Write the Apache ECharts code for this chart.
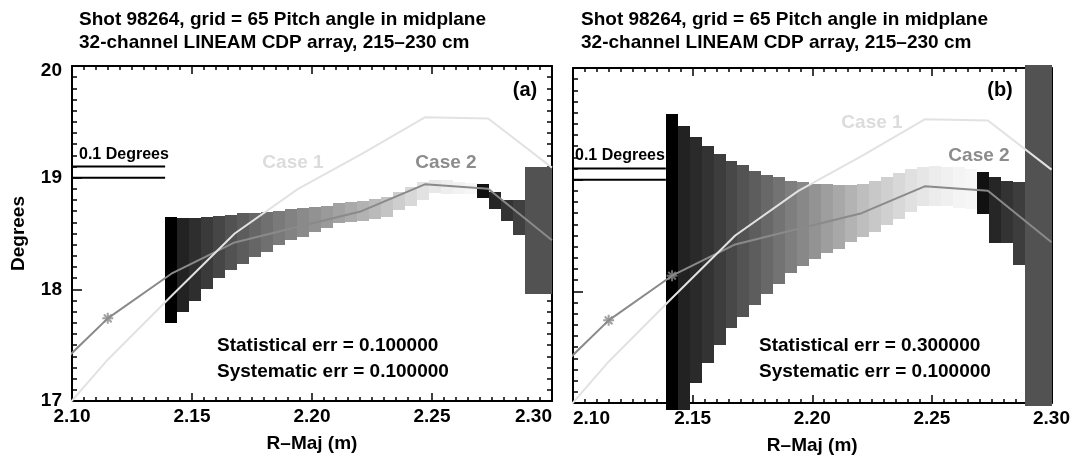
<!DOCTYPE html>
<html>
<head>
<meta charset="utf-8">
<title>Pitch angle in midplane</title>
<script src="https://cdn.jsdelivr.net/npm/echarts@6/dist/echarts.min.js"></script>
<style>
  html, body { margin: 0; padding: 0; background: #fff; }
  #chart { width: 1073px; height: 461px; }
</style>
</head>
<body>
<div id="chart"></div>
<script>
// 曲线横坐标 R-Maj (m)
const rMaj = [2.0885, 2.1149, 2.1414, 2.1678, 2.1942, 2.2206, 2.2470, 2.2734, 2.3000];
// Case 1 / Case 2 pitch angle (degrees)
const case1 = [16.72, 17.37, 17.94, 18.50, 18.90, 19.21, 19.54, 19.53, 19.09];
const case2 = [17.19, 17.74, 18.14, 18.42, 18.56, 18.70, 18.94, 18.90, 18.44];
// 星号标记所在的点 (index into rMaj)
const starIdxA = [1];
const starIdxB = [1, 2];

// 0.1 Degrees 比例尺
const scaleBarX = [2.10, 2.1388];
const scaleBarY = [19.0, 19.1];

// 灰度条的边界 (R-Maj, m)
const barEdges = [2.13875, 2.14375, 2.14875, 2.15375, 2.15875, 2.16375, 2.16875, 2.17375,
  2.17875, 2.18375, 2.18875, 2.19375, 2.19875, 2.20375, 2.20875, 2.21375, 2.21875, 2.22375,
  2.22875, 2.23375, 2.23875, 2.24375, 2.24875, 2.25375, 2.25875, 2.26375, 2.26875, 2.27375,
  2.27875, 2.28375, 2.28875, 2.30];

// (a) statistical err = 0.1
const hiA = [18.65, 18.64, 18.64, 18.65, 18.66, 18.67, 18.68, 18.68, 18.69, 18.70, 18.715,
  18.73, 18.74, 18.75, 18.77, 18.78, 18.79, 18.805, 18.83, 18.87, 18.92, 18.96, 18.98, 18.98,
  18.96, 18.95, 18.94, 18.87, 18.80, 18.80, 19.10];
const loA = [17.70, 17.80, 17.90, 18.00, 18.10, 18.17, 18.23, 18.29, 18.335, 18.395, 18.44,
  18.47, 18.51, 18.545, 18.59, 18.60, 18.615, 18.63, 18.65, 18.71, 18.75, 18.80, 18.86, 18.85,
  18.85, 18.85, 18.82, 18.72, 18.61, 18.49, 17.96];
const levelA = [0, 34, 46, 58, 70, 82, 92, 102, 112, 122, 130, 138, 146, 154, 162, 170, 178,
  186, 196, 206, 216, 226, 232, 238, 242, 246, 17, 38, 51, 64, 82];

// (b) statistical err = 0.3
const hiB = [19.59, 19.48, 19.38, 19.30, 19.23, 19.17, 19.13, 19.08, 19.04, 19.02, 18.99,
  18.98, 18.965, 18.96, 18.95, 18.95, 18.96, 18.99, 19.02, 19.06, 19.10, 19.11, 19.12, 19.11,
  19.11, 19.10, 19.07, 19.02, 18.99, 18.98, 20.03];
const loB = [16.94, 16.94, 17.18, 17.355, 17.52, 17.67, 17.77, 17.88, 17.98, 18.07, 18.16,
  18.23, 18.29, 18.34, 18.38, 18.44, 18.49, 18.53, 18.59, 18.65, 18.71, 18.76, 18.76, 18.76,
  18.75, 18.74, 18.69, 18.43, 18.43, 18.24, 16.97];
const levelB = [0, 34, 42, 51, 61, 72, 83, 93, 104, 115, 126, 136, 147, 158, 168, 179, 190,
  200, 208, 216, 224, 230, 236, 240, 244, 246, 17, 38, 51, 61, 82];

const FONT = "'Liberation Sans', Arial, Helvetica, sans-serif";
const BLACK = '#000';

// 组装灰度条数据 [x0, x1, lo, hi, level]
function buildBars(lo, hi, level) {
  let out = [];
  for (let i = 0; i < lo.length; i++) {
    out.push([barEdges[i], barEdges[i + 1], lo[i], hi[i], level[i]]);
  }
  return out;
}

function pairs(xs, ys) {
  return xs.map(function (x, i) { return [x, ys[i]]; });
}

function renderBar(params, api) {
  let p0 = api.coord([api.value(0), api.value(3)]);
  let p1 = api.coord([api.value(1), api.value(2)]);
  let x0 = Math.round(p0[0]), x1 = Math.round(p1[0]);
  let y0 = Math.round(p0[1]), y1 = Math.round(p1[1]);
  return {
    type: 'rect',
    shape: { x: x0, y: y0, width: x1 - x0, height: y1 - y0 },
    style: { fill: api.visual('color') }
  };
}

function xAxisOf(gi, pos, showLabel, alignMin, alignMax) {
  return {
    type: 'value', gridIndex: gi, position: pos,
    min: 2.10, max: 2.30, interval: 0.05,
    axisLine: { onZero: false, lineStyle: { color: BLACK, width: 2 } },
    axisTick: { inside: true, length: 8, lineStyle: { color: BLACK, width: 1.5 } },
    minorTick: { show: true, splitNumber: 10, length: 4, lineStyle: { color: BLACK, width: 1.5 } },
    splitLine: { show: false },
    axisLabel: {
      show: showLabel, color: BLACK, fontSize: 19, fontWeight: 'bold', fontFamily: FONT,
      margin: 6, showMinLabel: true, showMaxLabel: true,
      alignMinLabel: alignMin, alignMaxLabel: alignMax,
      formatter: function (v) { return v.toFixed(2); }
    },
    name: showLabel ? 'R–Maj (m)' : '',
    nameLocation: 'middle', nameGap: 33,
    nameTextStyle: { color: BLACK, fontSize: 19, fontWeight: 'bold', fontFamily: FONT }
  };
}

function yAxisOf(gi, pos, showLabel) {
  return {
    type: 'value', gridIndex: gi, position: pos,
    min: 17, max: 20, interval: 1,
    axisLine: { show: true, onZero: false, lineStyle: { color: BLACK, width: 2 } },
    axisTick: { inside: true, length: 10, lineStyle: { color: BLACK, width: 1.5 } },
    minorTick: { show: true, splitNumber: 10, length: 5, lineStyle: { color: BLACK, width: 1.5 } },
    splitLine: { show: false },
    axisLabel: {
      show: showLabel, margin: 10,
      formatter: function (v) { return v === 20 ? '{top|20}' : '{n|' + v + '}'; },
      rich: {
        n: { color: BLACK, fontSize: 19, fontWeight: 'bold', fontFamily: FONT },
        top: { color: BLACK, fontSize: 19, fontWeight: 'bold', fontFamily: FONT, padding: [10, 0, 0, 0] }
      }
    },
    name: showLabel ? 'Degrees' : '',
    nameLocation: 'middle', nameGap: 44,
    nameTextStyle: { color: BLACK, fontSize: 19, fontWeight: 'bold', fontFamily: FONT }
  };
}

function panelSeries(gi, bars, stars) {
  let xi = gi * 2, yi = gi * 2;
  let lineBase = { xAxisIndex: xi, yAxisIndex: yi, type: 'line', symbol: 'none', silent: true, animation: false };
  return [
    {
      type: 'custom', xAxisIndex: xi, yAxisIndex: yi, clip: false, silent: true, animation: false,
      renderItem: renderBar, encode: { x: [0, 1], y: [2, 3] }, data: bars, z: 2
    },
    Object.assign({}, lineBase, {
      data: pairs(scaleBarX, [scaleBarY[0], scaleBarY[0]]), lineStyle: { color: BLACK, width: 2 }, z: 3
    }),
    Object.assign({}, lineBase, {
      data: pairs(scaleBarX, [scaleBarY[1], scaleBarY[1]]), lineStyle: { color: BLACK, width: 2 }, z: 3
    }),
    Object.assign({}, lineBase, {
      data: pairs(rMaj, case2), lineStyle: { color: '#8a8a8a', width: 2 }, z: 4
    }),
    {
      type: 'scatter', xAxisIndex: xi, yAxisIndex: yi, silent: true, animation: false, z: 5,
      symbol: 'path://M0,-6L0,6M-6,0L6,0M-4.2,-4.2L4.2,4.2M-4.2,4.2L4.2,-4.2',
      symbolSize: 11,
      itemStyle: { color: 'none', borderColor: '#8a8a8a', borderWidth: 2 },
      data: stars.map(function (i) { return [rMaj[i], case2[i]]; })
    },
    Object.assign({}, lineBase, {
      data: pairs(rMaj, case1), lineStyle: { color: '#e2e2e2', width: 2 }, z: 6
    })
  ];
}

function txt(x, y, text, size, color, align) {
  return {
    type: 'text', x: x, y: y, silent: true, z: 100,
    style: {
      text: text, fill: color, font: 'bold ' + size + 'px ' + FONT,
      align: align || 'center', verticalAlign: 'middle'
    }
  };
}

function titleText(x) {
  return {
    type: 'text', x: x, y: 8, silent: true, z: 100,
    style: {
      text: 'Shot 98264, grid = 65 Pitch angle in midplane\n32-channel LINEAM CDP array, 215–230 cm',
      fill: BLACK, font: 'bold 19px ' + FONT, lineHeight: 23, align: 'left', verticalAlign: 'top'
    }
  };
}

let myChart = echarts.init(document.getElementById('chart'), null, { renderer: 'canvas' });

let series = []
  .concat(panelSeries(0, buildBars(loA, hiA, levelA), starIdxA))
  .concat(panelSeries(1, buildBars(loB, hiB, levelB), starIdxB));

let option = {
  backgroundColor: '#fff',
  animation: false,
  grid: [
    { left: 72, top: 66, width: 480, height: 335 },
    { left: 573, top: 68, width: 479, height: 335 }
  ],
  xAxis: [
    xAxisOf(0, 'bottom', true, 'center', 'right'),
    xAxisOf(0, 'top', false),
    xAxisOf(1, 'bottom', true, 'left', 'center'),
    xAxisOf(1, 'top', false)
  ],
  yAxis: [
    yAxisOf(0, 'left', true),
    yAxisOf(0, 'right', false),
    yAxisOf(1, 'left', false),
    yAxisOf(1, 'right', false)
  ],
  visualMap: [{
    show: false, type: 'continuous', seriesIndex: [0, 6], dimension: 4,
    min: 0, max: 255, inRange: { color: ['#000000', '#ffffff'] }
  }],
  graphic: [
    titleText(79),
    titleText(581),
    txt(525, 90, '(a)', 20, BLACK),
    txt(1000, 90, '(b)', 20, BLACK),
    txt(79, 155, '0.1 Degrees', 16, BLACK, 'left'),
    txt(575, 156, '0.1 Degrees', 16, BLACK, 'left'),
    txt(293, 163, 'Case 1', 19, '#dcdcdc'),
    txt(446, 163, 'Case 2', 19, '#8c8c8c'),
    txt(872, 123, 'Case 1', 19, '#dcdcdc'),
    txt(979, 156, 'Case 2', 19, '#8c8c8c'),
    txt(217, 346, 'Statistical err = 0.100000', 19, BLACK, 'left'),
    txt(217, 372, 'Systematic err = 0.100000', 19, BLACK, 'left'),
    txt(759, 346, 'Statistical err = 0.300000', 19, BLACK, 'left'),
    txt(759, 372, 'Systematic err = 0.100000', 19, BLACK, 'left')
  ],
  series: series
};

myChart.setOption(option);
</script>
</body>
</html>
